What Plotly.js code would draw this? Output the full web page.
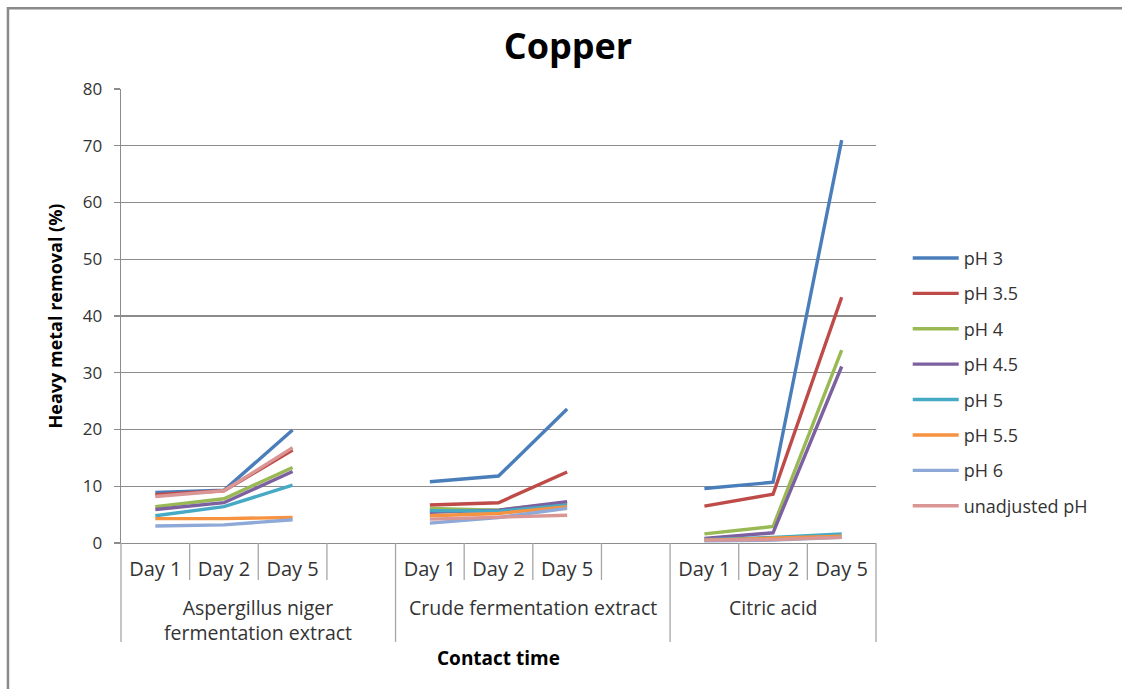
<!DOCTYPE html>
<html>
<head>
<meta charset="utf-8">
<script src="https://cdn.plot.ly/plotly-3.0.1.min.js"></script>
<style>
  html, body { margin: 0; padding: 0; background: #fff; }
  #chart { width: 1122px; height: 689px; }
</style>
</head>
<body>
<div id="chart"></div>
<script>
// Contact-time categories along the x axis (a blank slot separates each extract group)
const dayLabels = ["Day 1", "Day 2", "Day 5", "",
                   "Day 1", "Day 2", "Day 5", "",
                   "Day 1", "Day 2", "Day 5"];

// Extract groups: label, first category index, end index (exclusive)
const groupNames = ["Aspergillus niger<br>fermentation extract", "Crude fermentation extract", "Citric acid"];
const groupStart = [0, 4, 8];
const groupEnd = [4, 8, 11];

// Series names
const seriesNames = ["pH 3", "pH 3.5", "pH 4", "pH 4.5", "pH 5", "pH 5.5", "pH 6", "unadjusted pH"];

// Copper removal (%) per series, null where the blank slot breaks the line
const ph3     = [8.9, 9.3, 19.9, null, 10.8, 11.8, 23.6, null, 9.6, 10.7, 71.0];
const ph35    = [8.5, 9.2, 16.4, null, 6.7, 7.1, 12.5, null, 6.5, 8.6, 43.3];
const ph4     = [6.4, 7.8, 13.3, null, 6.1, 5.8, 7.1, null, 1.6, 2.9, 34.0];
const ph45    = [5.9, 7.1, 12.6, null, 5.4, 5.8, 7.3, null, 0.8, 1.8, 31.1];
const ph5     = [4.8, 6.4, 10.2, null, 5.7, 5.6, 6.7, null, 0.6, 1.0, 1.6];
const ph55    = [4.3, 4.3, 4.5, null, 4.8, 5.2, 6.4, null, 0.5, 0.8, 1.2];
const ph6     = [3.0, 3.2, 4.1, null, 3.5, 4.5, 6.1, null, 0.4, 0.5, 1.0];
const unadjPH = [8.2, 9.2, 16.8, null, 4.2, 4.6, 4.9, null, 0.5, 0.6, 1.0];

const seriesValues = [ph3, ph35, ph4, ph45, ph5, ph55, ph6, unadjPH];
const seriesColors = ["#4A7EBB", "#BE4B48", "#98B954", "#7D60A0", "#46AAC5", "#F69240", "#8EA9D8", "#D99694"];

const FONT = "'Open Sans', 'Noto Sans', sans-serif";
const TEXT = "#333333";
const GRID = "#8c8c8c";

const nCat = dayLabels.length;
const xIdx = dayLabels.map((_, i) => i);

const traces = seriesValues.map((vals, s) => ({
  type: "scatter",
  mode: "lines",
  name: seriesNames[s],
  legendgroup: "g" + s,
  x: xIdx,
  y: vals,
  connectgaps: false,
  line: { color: seriesColors[s], width: 3.4 },
  hoverinfo: "name+y"
}));

// Category dividers below the axis: short ones between days, long ones at group edges
const shapes = [];
const groupEdges = new Set();
groupStart.forEach(g => groupEdges.add(g));
groupEnd.forEach(g => groupEdges.add(g));
for (let k = 0; k <= nCat; k++) {
  const isGroupEdge = groupEdges.has(k);
  shapes.push({
    type: "line", xref: "paper", yref: "paper",
    x0: k / nCat, x1: k / nCat,
    y0: 0, y1: isGroupEdge ? -0.218 : -0.0815,
    line: { color: "#a6a6a6", width: 1.3 }
  });
}
// Outer chart frame (left and top edges)
shapes.push({
  type: "rect", xref: "paper", yref: "paper",
  x0: -0.1497, x1: 1.5, y0: -0.5, y1: 1.178,
  line: { color: "#8a8a8a", width: 2.5 }, fillcolor: "rgba(0,0,0,0)"
});

// Extract group labels under the day labels
const annotations = groupNames.map((g, i) => ({
  xref: "paper", yref: "paper",
  x: (groupStart[i] + groupEnd[i]) / 2 / nCat,
  y: -0.107,
  xanchor: "center", yanchor: "top",
  text: g, showarrow: false,
  font: { family: FONT, size: 19.5, color: TEXT }
}));

const layout = {
  width: 1122, height: 689,
  paper_bgcolor: "#ffffff", plot_bgcolor: "#ffffff",
  margin: { l: 121, r: 246, t: 89, b: 146 },
  font: { family: FONT, color: TEXT },
  title: {
    text: "<b>Copper</b>",
    font: { family: FONT, size: 36, color: "#000000" },
    x: 0.592, xref: "paper", xanchor: "center",
    y: 0.932, yref: "container", yanchor: "middle"
  },
  xaxis: {
    range: [-0.5, nCat - 0.5],
    tickmode: "array",
    tickvals: xIdx,
    ticktext: dayLabels,
    ticks: "",
    showgrid: false,
    zeroline: false,
    showline: true, linecolor: GRID, linewidth: 1.3,
    tickfont: { family: FONT, size: 20, color: TEXT },
    ticklabelstandoff: 8,
    title: {
      text: "<b>Contact time</b>",
      font: { family: FONT, size: 19, color: "#000000" },
      standoff: 70
    },
    fixedrange: true
  },
  yaxis: {
    range: [0, 80],
    tickmode: "linear", tick0: 0, dtick: 10,
    ticks: "outside", ticklen: 6, tickcolor: GRID, tickwidth: 1.3,
    showgrid: true, gridcolor: GRID, gridwidth: 1.1,
    zeroline: false,
    showline: true, linecolor: GRID, linewidth: 1.3,
    tickfont: { family: FONT, size: 17, color: TEXT },
    ticklabelstandoff: 8,
    title: {
      text: "<b>Heavy metal removal (%)</b>",
      font: { family: FONT, size: 18, color: "#000000" },
      standoff: 15
    },
    fixedrange: true
  },
  legend: {
    x: 1.042, xanchor: "left",
    y: 0.668, yanchor: "top",
    traceorder: "grouped",
    tracegroupgap: 9,
    itemwidth: 46,
    font: { family: FONT, size: 18, color: TEXT },
    bgcolor: "rgba(0,0,0,0)"
  },
  shapes: shapes,
  annotations: annotations,
  showlegend: true
};

Plotly.newPlot("chart", traces, layout, { displayModeBar: false, staticPlot: true });
</script>
</body>
</html>
